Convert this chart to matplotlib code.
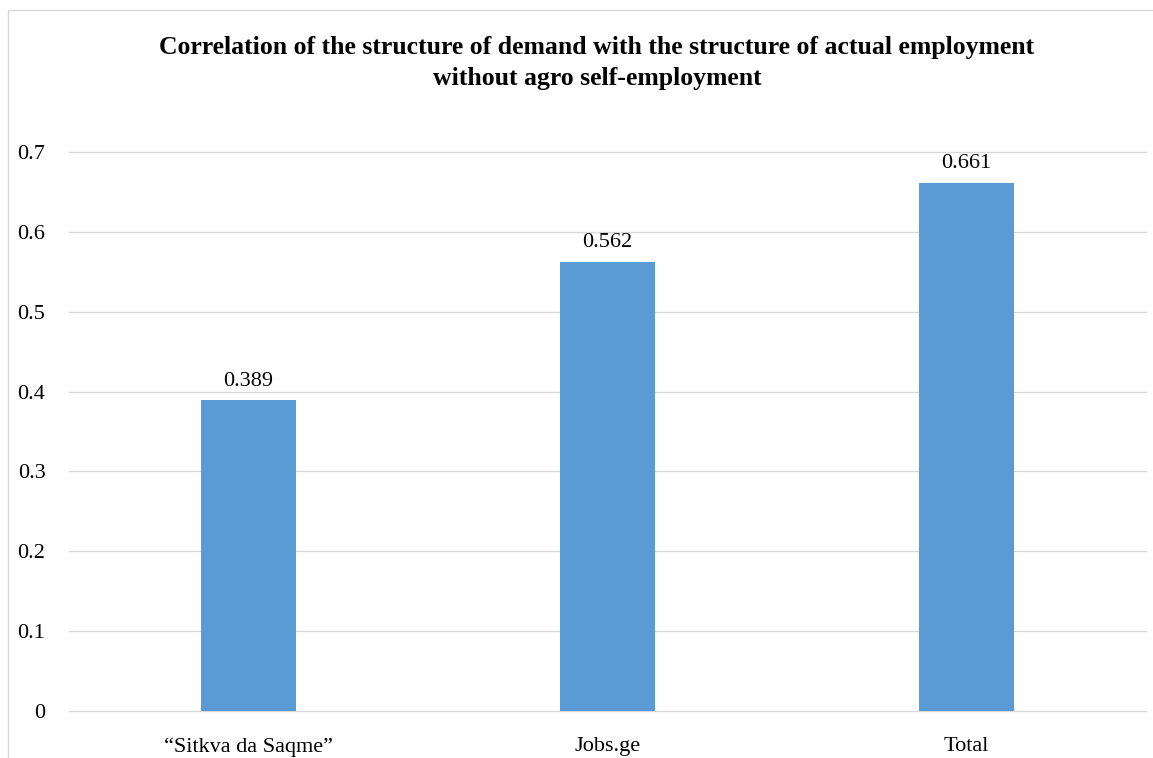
import matplotlib
matplotlib.use("Agg")
import matplotlib.pyplot as plt
from matplotlib.patches import Rectangle

categories = ["\u201cSitkva da Saqme\u201d", "Jobs.ge", "Total"]
values = [0.389, 0.562, 0.661]
yticks = [0, 0.1, 0.2, 0.3, 0.4, 0.5, 0.6, 0.7]
ytick_labels = ["0", "0.1", "0.2", "0.3", "0.4", "0.5", "0.6", "0.7"]
title = "Correlation of the structure of demand with the structure of actual employment\nwithout agro self-employment"

plt.rcParams['font.family'] = ['Liberation Serif', 'DejaVu Serif']

W, H = 1153, 758
fig = plt.figure(figsize=(W/100, H/100), dpi=100)
ax = fig.add_axes([69/W, 1-711/H, (1146-69)/W, (711-152)/H])

x = list(range(len(categories)))
bars = ax.bar(x, values, width=0.265, color="#5B9BD5", zorder=3)
ax.set_xlim(-0.5, len(categories)-0.5)
ax.set_ylim(0, 0.7)
ax.set_yticks(yticks)
ax.set_yticklabels(ytick_labels)
ax.set_xticks(x)
ax.set_xticklabels(categories)
ax.grid(axis='y', color="#D9D9D9", linewidth=1, zorder=0)
for gl in ax.get_ygridlines():
    gl.set_clip_on(False)
for s in ax.spines.values():
    s.set_visible(False)
ax.tick_params(axis='both', length=0, labelsize=16, colors="black")
ax.tick_params(axis='y', pad=17)
ax.tick_params(axis='x', pad=19)

for b, v in zip(bars, values):
    ax.annotate(f"{v:.3f}", (b.get_x()+b.get_width()/2, v), xytext=(0, 7),
                textcoords="offset points", ha="center", va="bottom", fontsize=16)

fig.text(597/W, 1-63/H, title, ha="center", va="center", fontsize=18.5,
         fontweight="bold", linespacing=1.45)

fig.patches.append(Rectangle((8/W, -0.01), 1.02, 1-10/H+0.01, transform=fig.transFigure,
                             fill=False, edgecolor="#D9D9D9", linewidth=1))

fig.savefig("out.png", dpi=100)
